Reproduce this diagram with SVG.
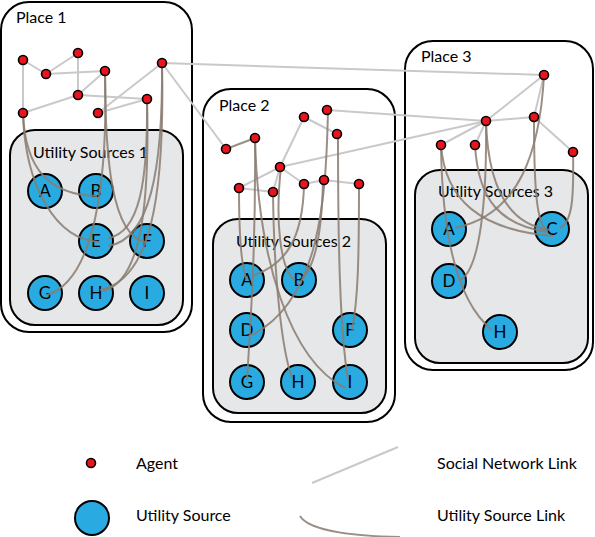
<svg xmlns="http://www.w3.org/2000/svg" width="595" height="537" viewBox="0 0 595 537">
<style>
.place{fill:#fff;stroke:#000;stroke-width:2}
.us{fill:#e6e7e8;stroke:#000;stroke-width:2}
.ag{fill:#e8151c;stroke:#000;stroke-width:1.6}
.src{fill:#29abe2;stroke:#000;stroke-width:2}
.sl{stroke:#c9c9c9;stroke-width:2;fill:none}
.ul{stroke:#8a7b70;stroke-width:2;fill:none;stroke-opacity:0.85}
.t{font-family:Lato,"Open Sans",sans-serif;font-size:16px;fill:#000}
.lbl{font-family:Lato,"Open Sans",sans-serif;font-size:17px;fill:#000;text-anchor:middle}
</style>
<rect width="595" height="537" fill="#fff"/>
<g id="place1"><rect class="place" x="1" y="2" width="191" height="330" rx="28"/><text class="t" x="16" y="23">Place 1</text></g>
<g id="place2"><rect class="place" x="203" y="89" width="192" height="333" rx="28"/><text class="t" x="219" y="111">Place 2</text></g>
<g id="place3"><rect class="place" x="405" y="41" width="188" height="329" rx="28"/><text class="t" x="421" y="62">Place 3</text></g>
<g id="us1"><rect class="us" x="10" y="130" width="173" height="195" rx="25"/><text class="t" x="33" y="158">Utility Sources 1</text></g>
<g id="us2"><rect class="us" x="213" y="219" width="173" height="194" rx="25"/><text class="t" x="236" y="247">Utility Sources 2</text></g>
<g id="us3"><rect class="us" x="415" y="170" width="173" height="193" rx="25"/><text class="t" x="438" y="197">Utility Sources 3</text></g>

<g id="sources">
<g id="s1A"><circle class="src" cx="45" cy="191" r="17"/><text class="lbl" x="45" y="197">A</text></g>
<g id="s1B"><circle class="src" cx="96" cy="191" r="17"/><text class="lbl" x="96" y="197">B</text></g>
<g id="s1E"><circle class="src" cx="96" cy="241" r="17"/><text class="lbl" x="96" y="247">E</text></g>
<g id="s1F"><circle class="src" cx="147" cy="241" r="17"/><text class="lbl" x="147" y="247">F</text></g>
<g id="s1G"><circle class="src" cx="45" cy="293" r="17"/><text class="lbl" x="45" y="299">G</text></g>
<g id="s1H"><circle class="src" cx="96" cy="293" r="17"/><text class="lbl" x="96" y="299">H</text></g>
<g id="s1I"><circle class="src" cx="147" cy="293" r="17"/><text class="lbl" x="147" y="299">I</text></g>
<g id="s2A"><circle class="src" cx="247" cy="280" r="17"/><text class="lbl" x="247" y="286">A</text></g>
<g id="s2B"><circle class="src" cx="299" cy="280" r="17"/><text class="lbl" x="299" y="286">B</text></g>
<g id="s2D"><circle class="src" cx="247" cy="330" r="17"/><text class="lbl" x="247" y="336">D</text></g>
<g id="s2F"><circle class="src" cx="350" cy="330" r="17"/><text class="lbl" x="350" y="336">F</text></g>
<g id="s2G"><circle class="src" cx="247" cy="382" r="17"/><text class="lbl" x="247" y="388">G</text></g>
<g id="s2H"><circle class="src" cx="298" cy="382" r="17"/><text class="lbl" x="298" y="388">H</text></g>
<g id="s2I"><circle class="src" cx="350" cy="382" r="17"/><text class="lbl" x="350" y="388">I</text></g>
<g id="s3A"><circle class="src" cx="449" cy="229" r="17"/><text class="lbl" x="449" y="235">A</text></g>
<g id="s3C"><circle class="src" cx="552" cy="229" r="17"/><text class="lbl" x="552" y="235">C</text></g>
<g id="s3D"><circle class="src" cx="449" cy="281" r="17"/><text class="lbl" x="449" y="287">D</text></g>
<g id="s3H"><circle class="src" cx="500" cy="332" r="17"/><text class="lbl" x="500" y="338">H</text></g>
</g>

<g id="connectors">
<g id="social">
<line class="sl" x1="23" y1="60" x2="46" y2="74"/>
<line class="sl" x1="23" y1="60" x2="23" y2="113"/>
<line class="sl" x1="78" y1="53" x2="46" y2="74"/>
<line class="sl" x1="46" y1="74" x2="105" y2="71"/>
<line class="sl" x1="78" y1="53" x2="78" y2="95"/>
<line class="sl" x1="23" y1="113" x2="78" y2="95"/>
<line class="sl" x1="78" y1="95" x2="105" y2="71"/>
<line class="sl" x1="78" y1="95" x2="147" y2="99"/>
<line class="sl" x1="98" y1="113" x2="147" y2="99"/>
<line class="sl" x1="98" y1="113" x2="162" y2="63"/>
<line class="sl" x1="162" y1="63" x2="544" y2="75"/>
<line class="sl" x1="162" y1="63" x2="226" y2="149"/>
<line class="sl" x1="304" y1="117" x2="337" y2="134"/>
<line class="sl" x1="327" y1="110" x2="486" y2="121"/>
<line class="sl" x1="304" y1="117" x2="280" y2="167"/>
<line class="sl" x1="280" y1="167" x2="239" y2="188"/>
<line class="sl" x1="280" y1="167" x2="486" y2="121"/>
<line class="sl" x1="239" y1="188" x2="273" y2="192"/>
<line class="sl" x1="280" y1="167" x2="273" y2="192"/>
<line class="sl" x1="280" y1="167" x2="304" y2="184"/>
<line class="sl" x1="304" y1="184" x2="324" y2="180"/>
<line class="sl" x1="324" y1="180" x2="359" y2="184"/>
<line class="sl" x1="544" y1="75" x2="486" y2="121"/>
<line class="sl" x1="544" y1="75" x2="534" y2="117"/>
<line class="sl" x1="486" y1="121" x2="534" y2="117"/>
<line class="sl" x1="486" y1="121" x2="441" y2="145"/>
<line class="sl" x1="486" y1="121" x2="475" y2="145"/>
<line class="sl" x1="534" y1="117" x2="573" y2="152"/>
</g>
<g id="utility">
<path class="ul" d="M23,113 C25,170 50,195 97,196"/>
<path class="ul" d="M23,113 C25,185 55,240 100,242"/>
<path class="ul" d="M105,71 C108,180 95,280 47,295"/>
<path class="ul" d="M105,71 C105,160 112,235 145,242"/>
<path class="ul" d="M147,99 C148,180 140,233 108,238"/>
<path class="ul" d="M147,99 C150,210 140,282 103,291"/>
<path class="ul" d="M162,63 C163,170 150,240 108,246"/>
<path class="ul" d="M162,63 C165,200 150,280 100,290"/>
<path class="ul" d="M226,149 L255,138"/>
<path class="ul" d="M239,188 C239,240 242,270 247,280"/>
<path class="ul" d="M255,138 C256,250 250,330 247,380"/>
<path class="ul" d="M255,138 C258,260 290,360 345,388"/>
<path class="ul" d="M273,192 C274,280 282,350 292,378"/>
<path class="ul" d="M281,167 C275,220 280,270 295,280"/>
<path class="ul" d="M304,184 C303,240 285,265 252,276"/>
<path class="ul" d="M323,180 C322,230 315,265 303,278"/>
<path class="ul" d="M328,110 C326,200 320,300 252,335"/>
<path class="ul" d="M338,134 C338,250 340,330 348,380"/>
<path class="ul" d="M359,184 C359,260 358,300 352,330"/>
<path class="ul" d="M441,145 C442,230 455,300 492,330"/>
<path class="ul" d="M441,145 C445,200 480,230 553,236"/>
<path class="ul" d="M475,145 C478,200 500,225 548,232"/>
<path class="ul" d="M486,121 C487,200 480,270 460,280"/>
<path class="ul" d="M486,121 C488,190 510,225 550,230"/>
<path class="ul" d="M534,117 C534,180 536,220 545,228"/>
<path class="ul" d="M544,75 C540,150 520,215 455,228"/>
<path class="ul" d="M573,152 C574,200 572,222 560,228"/>
</g>
</g>

<g id="agents">
<circle class="ag" cx="23" cy="60" r="4.5"/>
<circle class="ag" cx="78" cy="53" r="4.5"/>
<circle class="ag" cx="46" cy="74" r="4.5"/>
<circle class="ag" cx="105" cy="71" r="4.5"/>
<circle class="ag" cx="162" cy="63" r="4.5"/>
<circle class="ag" cx="78" cy="95" r="4.5"/>
<circle class="ag" cx="147" cy="99" r="4.5"/>
<circle class="ag" cx="23" cy="113" r="4.5"/>
<circle class="ag" cx="98" cy="113" r="4.5"/>
<circle class="ag" cx="226" cy="149" r="4.5"/>
<circle class="ag" cx="255" cy="138" r="4.5"/>
<circle class="ag" cx="304" cy="117" r="4.5"/>
<circle class="ag" cx="327" cy="110" r="4.5"/>
<circle class="ag" cx="337" cy="134" r="4.5"/>
<circle class="ag" cx="280" cy="167" r="4.5"/>
<circle class="ag" cx="239" cy="188" r="4.5"/>
<circle class="ag" cx="273" cy="192" r="4.5"/>
<circle class="ag" cx="304" cy="184" r="4.5"/>
<circle class="ag" cx="324" cy="180" r="4.5"/>
<circle class="ag" cx="359" cy="184" r="4.5"/>
<circle class="ag" cx="544" cy="75" r="4.5"/>
<circle class="ag" cx="486" cy="121" r="4.5"/>
<circle class="ag" cx="534" cy="117" r="4.5"/>
<circle class="ag" cx="441" cy="145" r="4.5"/>
<circle class="ag" cx="475" cy="145" r="4.5"/>
<circle class="ag" cx="573" cy="152" r="4.5"/>
</g>

<g id="legend">
<g id="lg-agent"><circle class="ag" cx="91" cy="463" r="4.5"/><text class="t" x="136" y="469">Agent</text></g>
<g id="lg-source"><circle class="src" cx="92" cy="518" r="17"/><text class="t" x="136" y="521">Utility Source</text></g>
<g id="lg-social"><line class="sl" x1="312" y1="483" x2="398" y2="447"/><text class="t" x="437" y="469">Social Network Link</text></g>
<g id="lg-util"><path class="ul" d="M300,516 C308,530 350,536 400,537"/><text class="t" x="437" y="521">Utility Source Link</text></g>
</g>
</svg>
